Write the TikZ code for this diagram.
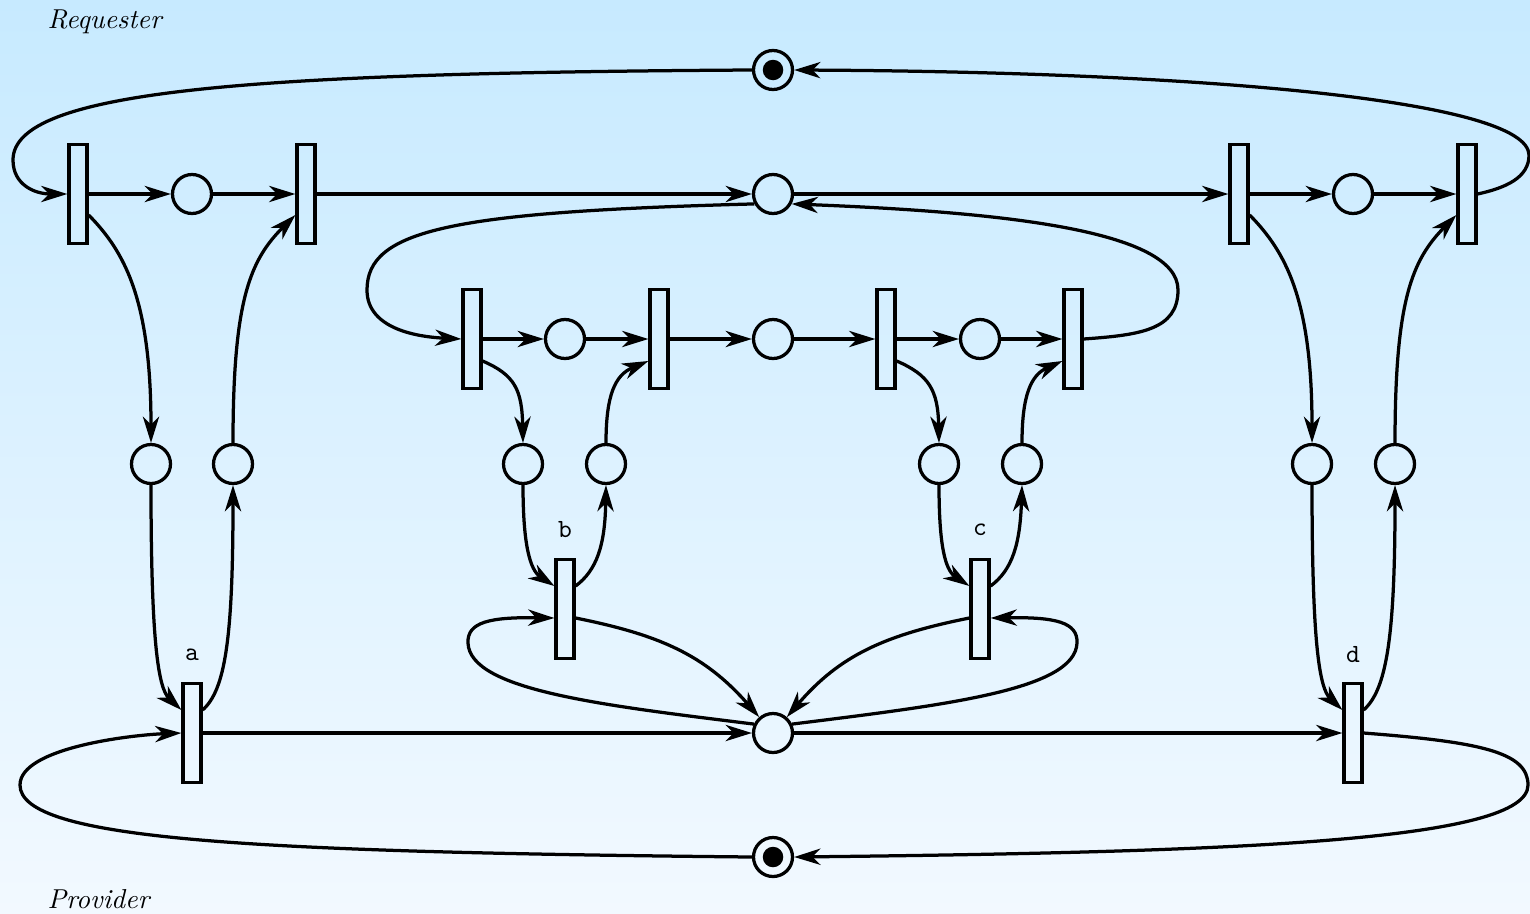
\documentclass[tikz,border=0pt]{standalone}
\usetikzlibrary{arrows.meta,calc}
\definecolor{bgtop}{RGB}{199,234,255}
\definecolor{bgbot}{RGB}{242,249,255}
\begin{document}
\begin{tikzpicture}[x=0.4pt,y=-0.4pt,
  place/.style={circle,draw,line width=1.3pt,minimum size=15.6pt,inner sep=0pt},
  trans/.style={rectangle,draw,line width=1.3pt,minimum width=7.2pt,minimum height=39.8pt,inner sep=0pt},
  arc/.style={line width=1.3pt,-{Stealth[length=10.5pt,width=6.5pt,inset=3.2pt]}},
  lbl/.style={font=\fontsize{10.5}{12}\selectfont\ttfamily,inner sep=0pt},
  role/.style={font=\fontsize{10.95}{13}\selectfont\itshape,inner sep=0pt,anchor=base west}]
\shade[top color=bgtop,bottom color=bgbot] (0,0) rectangle (1530,913);
\useasboundingbox (0,0) rectangle (1530,913);

\node[role] (req) at (47,28) {Requester};
\node[role] (prov) at (47,908) {Provider};

% row 1
\node[trans] (t1) at (78,194) {};
\node[place] (p1) at (192,194) {};
\node[trans] (t2) at (306,194) {};
\node[place] (pm) at (773,194) {};
\node[trans] (t3) at (1239,194) {};
\node[place] (p2) at (1353,194) {};
\node[trans] (t4) at (1467,194) {};
% row 2
\node[trans] (t5) at (472,339) {};
\node[place] (p3) at (565,339) {};
\node[trans] (t6) at (659,339) {};
\node[place] (pc) at (773,339) {};
\node[trans] (t7) at (886,339) {};
\node[place] (p4) at (980,339) {};
\node[trans] (t8) at (1073,339) {};
% row 3
\node[place] (pl1) at (151,464) {};
\node[place] (pr1) at (233,464) {};
\node[place] (pl2) at (523,464) {};
\node[place] (pr2) at (606,464) {};
\node[place] (pl3) at (939,464) {};
\node[place] (pr3) at (1022,464) {};
\node[place] (pl4) at (1312,464) {};
\node[place] (pr4) at (1395,464) {};
% lower transitions
\node[trans] (b) at (565,609) {};
\node[trans] (c) at (980,609) {};
\node[trans] (a) at (192,733) {};
\node[place] (pmb) at (773,733) {};
\node[trans] (d) at (1353,733) {};
% labels
\node[lbl] (la) at (192,655) {a};
\node[lbl] (lb) at (565,530) {b};
\node[lbl] (lc) at (980,530) {c};
\node[lbl] (ld) at (1353,655) {d};
% token places
\node[place] (ptop) at (773,70) {};
\node[place] (pbot) at (773,857) {};
\fill (ptop) circle (4.1pt);
\fill (pbot) circle (4.1pt);

% row 1 arcs
\draw[arc] (t1) -- (p1);
\draw[arc] (p1) -- (t2);
\draw[arc] (t2) -- (pm);
\draw[arc] (pm) -- (t3);
\draw[arc] (t3) -- (p2);
\draw[arc] (p2) -- (t4);
% row 2 arcs
\draw[arc] (t5) -- (p3);
\draw[arc] (p3) -- (t6);
\draw[arc] (t6) -- (pc);
\draw[arc] (pc) -- (t7);
\draw[arc] (t7) -- (p4);
\draw[arc] (p4) -- (t8);
% bottom row
\draw[arc] (a) -- (pmb);
\draw[arc] (pmb) -- (d);

% top loops
\draw[arc] (t4.east) .. controls (1505,188) and (1529,178) .. (1529,155)
  .. controls (1528,100) and (1200,72) .. (ptop.east);
\draw[arc] (ptop.west) .. controls (250,73) and (13,90) .. (13,160)
  .. controls (13,185) and (35,194) .. (t1.west);
% bottom loops
\draw[arc] (d.east) .. controls (1480,742) and (1528,752) .. (1528,785)
  .. controls (1528,840) and (1250,852) .. (pbot.east);
\draw[arc] (pbot.west) .. controls (250,852) and (20,840) .. (20,785)
  .. controls (20,748) and (130,735) .. (a.west);
% middle loops
\draw[arc] (pm.208) .. controls (450,212) and (367,230) .. (367,290)
  .. controls (367,330) and (420,337) .. (t5.west);
\draw[arc] (t8.east) .. controls (1140,335) and (1178,330) .. (1178,290)
  .. controls (1178,230) and (1000,212) .. (pm.332);

% left column
\draw[arc] ($(t1.east)+(0,21)$) .. controls (125,252) and (151,300) .. (pl1.north);
\draw[arc] (pr1.north) .. controls (233,300) and (250,260) .. ($(t2.west)+(0,21)$);
\draw[arc] (pl1.south) .. controls (151,640) and (158,688) .. ($(a.west)+(0,-23)$);
\draw[arc] ($(a.east)+(0,-23)$) .. controls (225,690) and (233,640) .. (pr1.south);
% right column
\draw[arc] ($(t3.east)+(0,21)$) .. controls (1286,252) and (1312,300) .. (pl4.north);
\draw[arc] (pr4.north) .. controls (1395,300) and (1412,260) .. ($(t4.west)+(0,21)$);
\draw[arc] (pl4.south) .. controls (1312,640) and (1319,688) .. ($(d.west)+(0,-23)$);
\draw[arc] ($(d.east)+(0,-23)$) .. controls (1386,690) and (1395,640) .. (pr4.south);
% b column
\draw[arc] ($(t5.east)+(0,22)$) .. controls (515,375) and (522,390) .. (pl2.north);
\draw[arc] (pr2.north) .. controls (606,395) and (615,375) .. ($(t6.west)+(0,22)$);
\draw[arc] (pl2.south) .. controls (523,545) and (530,570) .. ($(b.west)+(0,-23)$);
\draw[arc] ($(b.east)+(0,-23)$) .. controls (597,570) and (605,545) .. (pr2.south);
% c column
\draw[arc] ($(t7.east)+(0,22)$) .. controls (929,375) and (938,390) .. (pl3.north);
\draw[arc] (pr3.north) .. controls (1022,395) and (1031,375) .. ($(t8.west)+(0,22)$);
\draw[arc] (pl3.south) .. controls (939,545) and (945,570) .. ($(c.west)+(0,-23)$);
\draw[arc] ($(c.east)+(0,-23)$) .. controls (1012,570) and (1020,545) .. (pr3.south);
% b and c loops
\draw[arc] (pmb.155) .. controls (600,705) and (470,690) .. (468,643)
  .. controls (467,622) and (490,617) .. ($(b.west)+(0,9)$);
\draw[arc] ($(b.east)+(0,9)$) .. controls (660,635) and (705,655) .. (pmb.131);
\draw[arc] (pmb.25) .. controls (945,705) and (1075,690) .. (1077,643)
  .. controls (1078,622) and (1055,617) .. ($(c.east)+(0,9)$);
\draw[arc] ($(c.west)+(0,9)$) .. controls (885,635) and (840,655) .. (pmb.49);
\end{tikzpicture}
\end{document}
